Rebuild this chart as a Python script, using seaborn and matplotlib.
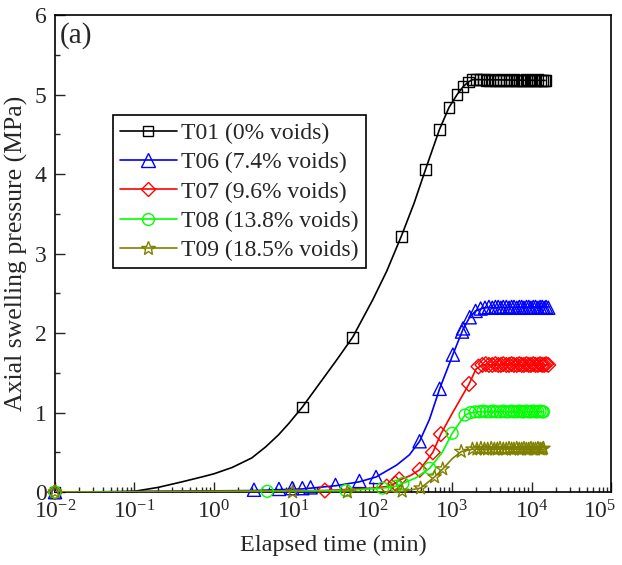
import matplotlib
matplotlib.use('Agg')
import seaborn as sns
import matplotlib.pyplot as plt
from matplotlib.lines import Line2D
from matplotlib.transforms import ScaledTranslation
from matplotlib.ticker import LogLocator, MultipleLocator, NullFormatter

# T01 (0% voids) - smooth curve and marker points
t01_line_t = [0.01, 0.05, 0.1, 0.2, 0.4, 0.7, 1.0, 1.7, 3.0, 4.5, 6.5, 8.8, 13, 23, 35, 56, 100, 150,
              229, 330, 462, 690, 912, 1150, 1370, 1590, 1810, 2100, 14800]
t01_line_p = [0, 0, 0.01, 0.06, 0.13, 0.19, 0.23, 0.31, 0.43, 0.57, 0.72, 0.865, 1.07, 1.41, 1.66, 1.95, 2.42, 2.78,
              3.22, 3.63, 4.06, 4.56, 4.84, 5.00, 5.10, 5.16, 5.19, 5.19, 5.18]
t01_mark_t = [0.01, 13, 56, 229, 462, 690, 912, 1150, 1370, 1590,
              1810, 2040, 2270, 2500, 2730, 2960, 3200, 3500, 3800, 4100,
              4400, 4800, 5200, 5600, 6000, 6500, 7000, 7500, 8000, 8600,
              9200, 9800, 10500, 11200, 12000, 12800, 13600, 14400, 14800]
t01_mark_p = [0, 1.07, 1.95, 3.22, 4.06, 4.56, 4.84, 5.00, 5.10, 5.16,
              5.19, 5.19, 5.19, 5.19, 5.18, 5.18, 5.19, 5.18, 5.18, 5.18,
              5.19, 5.18, 5.18, 5.18, 5.19, 5.18, 5.18, 5.18, 5.18, 5.19,
              5.18, 5.18, 5.18, 5.18, 5.19, 5.18, 5.18, 5.18, 5.18]

# T06 (7.4% voids)
t06_line_t = [0.01, 3.2, 13, 34, 68, 110, 200, 290, 389, 520, 695, 1020, 1370, 1660, 1970, 2500, 16200]
t06_line_p = [0, 0.02, 0.04, 0.08, 0.13, 0.19, 0.34, 0.47, 0.64, 0.92, 1.30, 1.73, 2.05, 2.20, 2.28, 2.32, 2.33]
t06_mark_t = [0.01, 3.2, 6.6, 9.7, 13, 16.5, 34, 68, 110, 389,
              695, 1020, 1330, 1370, 1660, 1970, 2280, 2590, 2900, 3200,
              3500, 3800, 4100, 4400, 4800, 5200, 5600, 6000, 6500, 7000,
              7500, 8000, 8600, 9200, 9800, 10500, 11200, 12000, 12800, 13600,
              14400, 15200, 16200]
t06_mark_p = [0, 0.03, 0.04, 0.05, 0.05, 0.06, 0.09, 0.14, 0.19, 0.64,
              1.30, 1.73, 2.02, 2.06, 2.20, 2.28, 2.31, 2.32, 2.33, 2.32,
              2.33, 2.33, 2.32, 2.33, 2.33, 2.32, 2.33, 2.33, 2.32, 2.33,
              2.33, 2.32, 2.33, 2.33, 2.32, 2.33, 2.33, 2.32, 2.33, 2.33,
              2.32, 2.33, 2.32]

# T07 (9.6% voids)
t07_line_t = [0.01, 25, 100, 150, 192, 215, 300, 389, 571, 720, 1000, 1630, 2000, 2400, 16200]
t07_line_p = [0, 0.02, 0.05, 0.07, 0.11, 0.15, 0.21, 0.28, 0.50, 0.73, 0.99, 1.36, 1.55, 1.60, 1.60]
t07_mark_t = [0.01, 25, 150, 192, 215, 389, 571, 720, 1630, 2140,
              2400, 2650, 2900, 3200, 3500, 3800, 4100, 4400, 4800, 5200,
              5600, 6000, 6500, 7000, 7500, 8000, 8600, 9200, 9800, 10500,
              11200, 12000, 12800, 13600, 14400, 15200, 16200]
t07_mark_p = [0, 0.02, 0.07, 0.11, 0.16, 0.28, 0.50, 0.73, 1.36, 1.58,
              1.60, 1.61, 1.60, 1.60, 1.61, 1.60, 1.60, 1.61, 1.60, 1.60,
              1.61, 1.60, 1.60, 1.61, 1.60, 1.60, 1.61, 1.60, 1.60, 1.61,
              1.60, 1.60, 1.61, 1.60, 1.60, 1.61, 1.60]

# T08 (13.8% voids)
t08_line_t = [0.01, 4.7, 46, 133, 197, 240, 350, 520, 750, 1000, 1450, 1700, 2200, 14100]
t08_line_p = [0, 0.01, 0.02, 0.05, 0.075, 0.11, 0.18, 0.30, 0.50, 0.74, 0.97, 1.00, 1.01, 1.01]
t08_mark_t = [0.01, 4.7, 46, 133, 197, 240, 520, 1000, 1450, 1700,
              1950, 2200, 2450, 2700, 3000, 3300, 3600, 4000, 4400, 4800,
              5200, 5600, 6000, 6500, 7000, 7500, 8000, 8600, 9200, 9800,
              10500, 11200, 12000, 12800, 13600, 14100]
t08_mark_p = [0, 0.01, 0.02, 0.05, 0.075, 0.11, 0.30, 0.74, 0.97, 1.00,
              1.01, 1.01, 1.02, 1.01, 1.01, 1.02, 1.01, 1.01, 1.02, 1.01,
              1.01, 1.02, 1.01, 1.01, 1.02, 1.01, 1.01, 1.02, 1.01, 1.01,
              1.02, 1.01, 1.01, 1.02, 1.01, 1.01]

# T09 (18.5% voids)
t09_line_t = [0.01, 48, 200, 235, 400, 600, 760, 1000, 1300, 1800, 14100]
t09_line_p = [0, 0, 0.0, 0.01, 0.05, 0.19, 0.29, 0.42, 0.51, 0.54, 0.54]
t09_mark_t = [0.01, 9.8, 48, 235, 400, 600, 760, 1300, 1800, 2050,
              2300, 2550, 2800, 3100, 3400, 3700, 4000, 4400, 4800, 5200,
              5600, 6000, 6500, 7000, 7500, 8000, 8600, 9200, 9800, 10500,
              11200, 12000, 12800, 13600, 14100]
t09_mark_p = [0, 0, 0, 0.01, 0.05, 0.19, 0.29, 0.51, 0.54, 0.54,
              0.55, 0.54, 0.54, 0.55, 0.54, 0.54, 0.55, 0.54, 0.54, 0.55,
              0.54, 0.54, 0.55, 0.54, 0.54, 0.55, 0.54, 0.54, 0.55, 0.54,
              0.54, 0.55, 0.54, 0.54, 0.55]

labels = ['T01 (0% voids)', 'T06 (7.4% voids)', 'T07 (9.6% voids)',
          'T08 (13.8% voids)', 'T09 (18.5% voids)']

sns.set_theme(style='white')
plt.rcParams['font.family'] = ['Liberation Serif', 'DejaVu Serif']
plt.rcParams['mathtext.default'] = 'regular'
plt.rcParams['axes.edgecolor'] = 'black'
plt.rcParams['axes.linewidth'] = 1.2

fig = plt.figure(figsize=(6.22, 5.65), dpi=100)
ax = fig.add_axes([0.0884, 0.129, 0.894, 0.844])
ax.set_xscale('log')

series = [
    (t01_line_t, t01_line_p, t01_mark_t, t01_mark_p, 'black', 's', 7.8),
    (t06_line_t, t06_line_p, t06_mark_t, t06_mark_p, '#0000ff', '^', 9.5),
    (t07_line_t, t07_line_p, t07_mark_t, t07_mark_p, '#ff0000', 'D', 7.5),
    (t08_line_t, t08_line_p, t08_mark_t, t08_mark_p, '#00ff00', 'o', 8.5),
    (t09_line_t, t09_line_p, t09_mark_t, t09_mark_p, '#808000', '*', 10),
]

handles = []
for i, (lt, lp, mt, mp, col, mk, ms) in enumerate(series):
    sns.lineplot(x=lt, y=lp, color=col, lw=1.2, ax=ax, zorder=3 + 2 * i)
    sns.scatterplot(x=mt, y=mp, marker=mk, s=ms ** 2, color=col, facecolor='none',
                    edgecolor=col, linewidth=1.0, ax=ax, zorder=4 + 2 * i, clip_on=False)
    handles.append(Line2D([0], [0], color=col, lw=1.2, marker=mk, ms=ms,
                          mfc='none', mec=col, mew=1.0))

ax.set_xlim(1e-2, 1e5)
ax.set_ylim(0, 6)
ax.xaxis.set_major_locator(LogLocator(base=10, numticks=20))
ax.xaxis.set_minor_locator(LogLocator(base=10, subs=range(2, 10), numticks=100))
ax.xaxis.set_minor_formatter(NullFormatter())
ax.yaxis.set_major_locator(MultipleLocator(1))
ax.yaxis.set_minor_locator(MultipleLocator(0.5))
ax.tick_params(which='both', direction='in', top=False, right=False,
               bottom=True, left=True, width=1.0, labelsize=17)
ax.tick_params(which='major', length=7, pad=6)
ax.tick_params(which='minor', length=3.5)

ax.set_xlabel('Elapsed time (min)', fontsize=17.5, labelpad=8)
ax.set_ylabel('Axial swelling pressure (MPa)', fontsize=18.5, labelpad=5)
ax.text(0.008, 0.985, '(a)', transform=ax.transAxes, fontsize=21, va='top', ha='left')

leg = ax.legend(handles=handles, labels=labels, loc='upper left', bbox_to_anchor=(0.104, 0.79),
                fontsize=17, frameon=True, fancybox=False, edgecolor='black', framealpha=1,
                borderaxespad=0, handlelength=2.4, handletextpad=0.2, labelspacing=0.33,
                borderpad=0.3, numpoints=1)
leg.get_frame().set_linewidth(1.2)

# keep the last decade label inside the picture
fig.canvas.draw()
for tick in ax.xaxis.get_major_ticks():
    if abs(tick.get_loc() - 1e5) < 1:
        lbl = tick.label1
        lbl.set_transform(lbl.get_transform() + ScaledTranslation(-8 / 72, 0, fig.dpi_scale_trans))

fig.savefig('out.png', dpi=100)
